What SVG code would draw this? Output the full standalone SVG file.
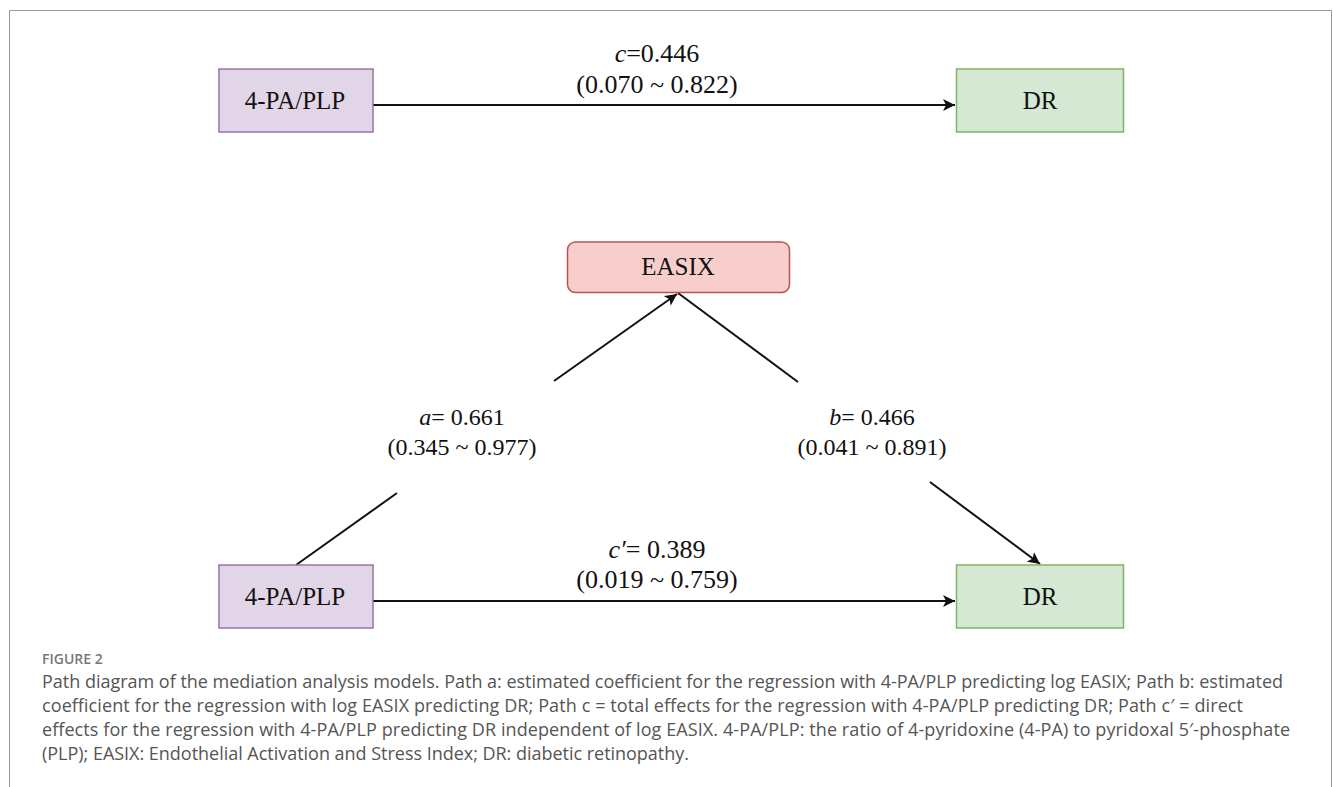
<svg xmlns="http://www.w3.org/2000/svg" width="1333" height="787" viewBox="0 0 1333 787">
<style>
.node-label{font-family:"Liberation Serif","Times New Roman",serif;font-size:25px;fill:#111;text-anchor:middle}
.edge-label{font-family:"Liberation Serif","Times New Roman",serif;font-size:24px;fill:#111;text-anchor:middle}
.edge-label-lg{font-family:"Liberation Serif","Times New Roman",serif;font-size:26px;fill:#111;text-anchor:middle}
.conn{stroke:#111;stroke-width:2;fill:none}
.cap{font-family:"Open Sans","DejaVu Sans",sans-serif;font-size:18px;fill:#555}
.capt{font-family:"Open Sans","DejaVu Sans",sans-serif;font-size:14px;fill:#777;font-weight:600}
</style>
<defs>
<marker id="arr" markerUnits="userSpaceOnUse" markerWidth="14" markerHeight="12" refX="12" refY="6" orient="auto">
<path d="M0,0 L12,6 L0,12 L3,6 Z" fill="#111"/>
</marker>
</defs>
<rect width="1333" height="787" fill="#fff"/>
<path d="M9.5,787 V10.5 H1331.5 V787" fill="none" stroke="#999" stroke-width="1"/>

<g id="connectors">
<line class="conn" x1="373" y1="105" x2="955" y2="105" marker-end="url(#arr)"/>
<line class="conn" x1="296" y1="565" x2="397" y2="493"/>
<line class="conn" x1="554" y1="381" x2="677" y2="294" marker-end="url(#arr)"/>
<line class="conn" x1="678" y1="293" x2="798" y2="382"/>
<line class="conn" x1="930" y1="482" x2="1040" y2="564" marker-end="url(#arr)"/>
<line class="conn" x1="373" y1="601" x2="955" y2="601" marker-end="url(#arr)"/>
<text class="edge-label-lg" x="657" y="62"><tspan font-style="italic">c</tspan>=0.446</text>
<text class="edge-label-lg" x="657" y="93">(0.070 ~ 0.822)</text>
<text class="edge-label" x="462" y="425"><tspan font-style="italic">a</tspan>= 0.661</text>
<text class="edge-label" x="462" y="455">(0.345 ~ 0.977)</text>
<text class="edge-label" x="872" y="425"><tspan font-style="italic">b</tspan>= 0.466</text>
<text class="edge-label" x="872" y="455">(0.041 ~ 0.891)</text>
<text class="edge-label-lg" x="657" y="558"><tspan font-style="italic">c′</tspan>= 0.389</text>
<text class="edge-label-lg" x="657" y="588">(0.019 ~ 0.759)</text>
</g>

<g id="node-top-4pa">
<rect x="219" y="69" width="154" height="63" fill="#e1d5e7" stroke="#9673a6" stroke-width="1.5"/>
<text class="node-label" x="295" y="109">4-PA/PLP</text>
</g>
<g id="node-top-dr">
<rect x="956.5" y="69" width="167" height="63" fill="#d5e8d4" stroke="#82b366" stroke-width="1.5"/>
<text class="node-label" x="1040" y="109">DR</text>
</g>
<g id="node-easix">
<rect x="567.5" y="242" width="222" height="50.5" rx="8" fill="#f8cecc" stroke="#b85450" stroke-width="1.5"/>
<text class="node-label" x="678" y="275">EASIX</text>
</g>
<g id="node-bottom-4pa">
<rect x="219" y="565" width="154" height="63" fill="#e1d5e7" stroke="#9673a6" stroke-width="1.5"/>
<text class="node-label" x="295" y="605">4-PA/PLP</text>
</g>
<g id="node-bottom-dr">
<rect x="956.5" y="565" width="167" height="63" fill="#d5e8d4" stroke="#82b366" stroke-width="1.5"/>
<text class="node-label" x="1040" y="605">DR</text>
</g>

<g id="caption">
<text class="capt" x="42" y="664">FIGURE 2</text>
<text class="cap" x="42" y="688" textLength="1241" lengthAdjust="spacing">Path diagram of the mediation analysis models. Path a: estimated coefficient for the regression with 4-PA/PLP predicting log EASIX; Path b: estimated</text>
<text class="cap" x="42" y="712" textLength="1201" lengthAdjust="spacing">coefficient for the regression with log EASIX predicting DR; Path c = total effects for the regression with 4-PA/PLP predicting DR; Path c′ = direct</text>
<text class="cap" x="42" y="736" textLength="1248" lengthAdjust="spacing">effects for the regression with 4-PA/PLP predicting DR independent of log EASIX. 4-PA/PLP: the ratio of 4-pyridoxine (4-PA) to pyridoxal 5′-phosphate</text>
<text class="cap" x="42" y="760" textLength="647" lengthAdjust="spacing">(PLP); EASIX: Endothelial Activation and Stress Index; DR: diabetic retinopathy.</text>
</g>
</svg>
